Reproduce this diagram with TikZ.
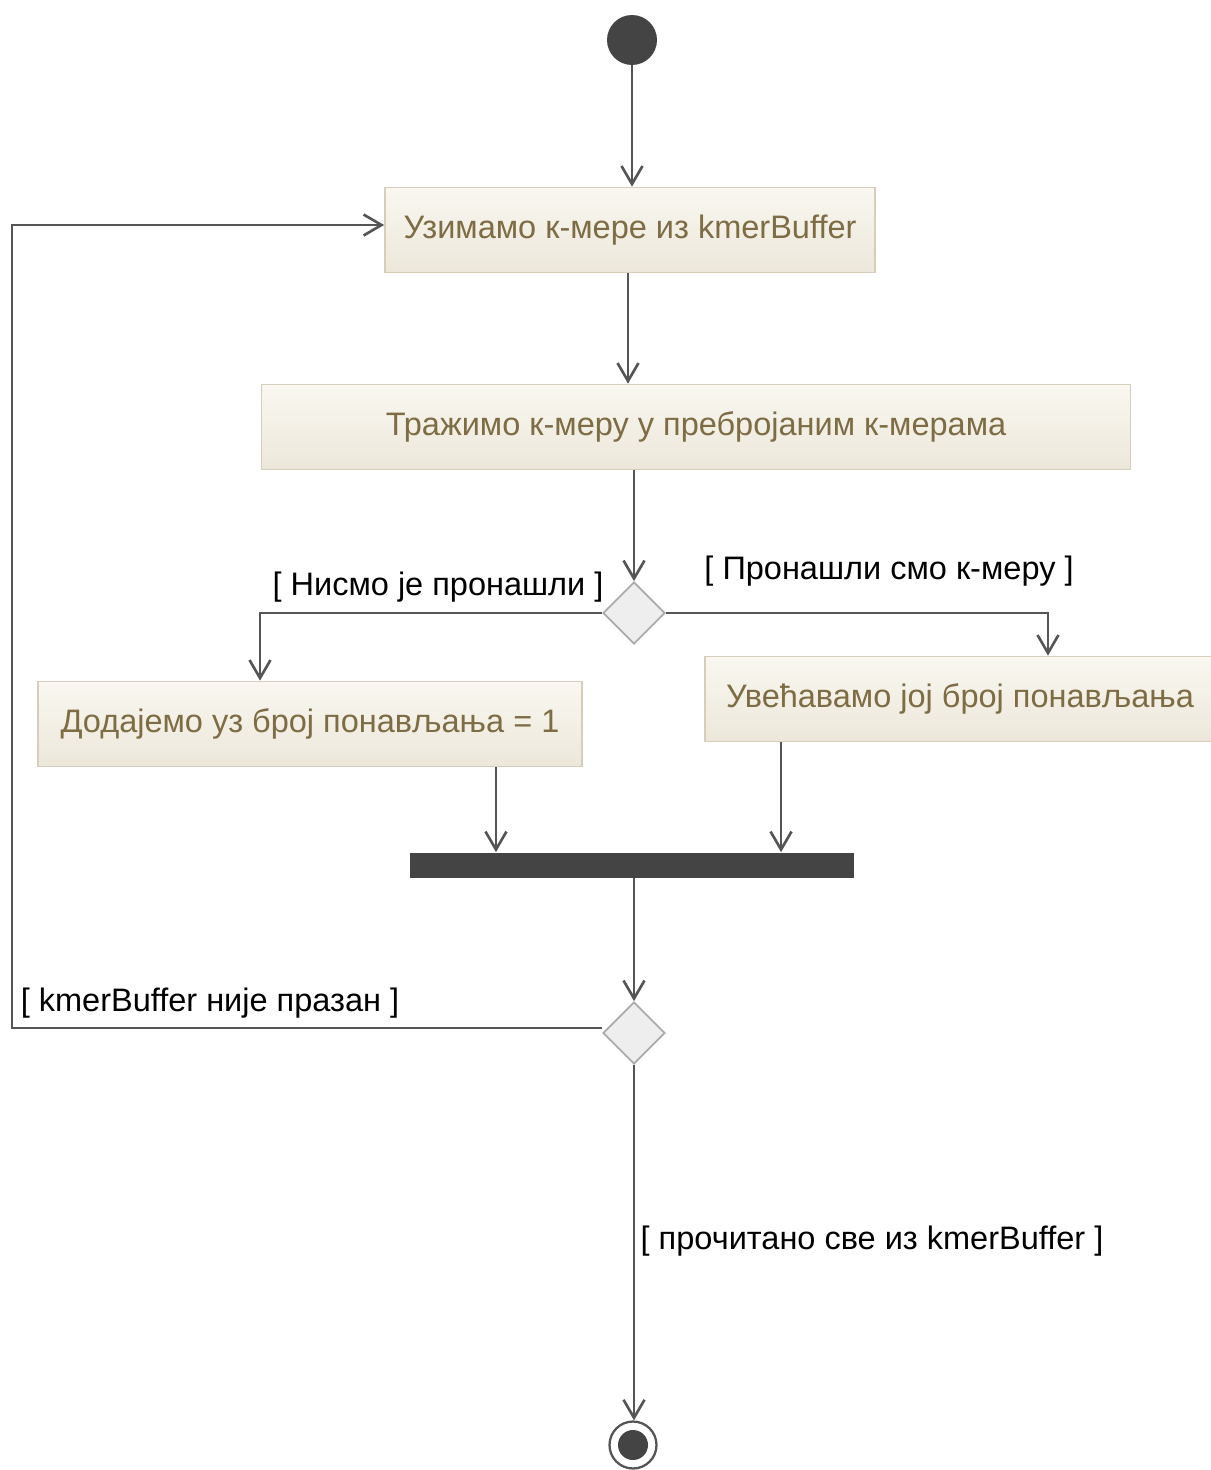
\documentclass[tikz,border=0pt]{standalone}
\usepackage{fontspec}
\setmainfont{Liberation Sans}
\usetikzlibrary{shapes.geometric,arrows.meta}
\definecolor{linegray}{RGB}{85,85,85}
\definecolor{darkfill}{RGB}{68,68,68}
\definecolor{boxtop}{RGB}{249,247,240}
\definecolor{boxbottom}{RGB}{236,231,218}
\definecolor{boxedge}{RGB}{214,205,186}
\definecolor{boxtext}{RGB}{125,108,68}
\definecolor{diafill}{RGB}{238,238,238}
\definecolor{diaedge}{RGB}{170,170,170}
\begin{document}
\begin{tikzpicture}[x=0.02cm,y=-0.02cm,
	flow/.style={line width=1.6pt, draw=linegray, -{Straight Barb[length=3.6mm,width=4.2mm,line width=1.5pt]}},
	action/.style={rectangle, draw=boxedge, line width=1pt, top color=boxtop, bottom color=boxbottom,
		text=boxtext, minimum height=1.7cm, inner sep=0pt, font=\fontsize{18.5}{22}\selectfont},
	guard/.style={inner sep=0pt, font=\fontsize{18.5}{22}\selectfont},
	choice/.style={diamond, draw=diaedge, fill=diafill, line width=1pt, aspect=1,
		minimum width=1.24cm, minimum height=1.24cm, inner sep=0pt},
	startnode/.style={circle, fill=darkfill, minimum size=1cm, inner sep=0pt},
	endnode/.style={circle, draw=linegray, fill=white, line width=1.3pt, minimum size=0.94cm, inner sep=0pt,
		path picture={\fill[darkfill] (path picture bounding box.center) circle (0.3cm);}},
	forkbar/.style={rectangle, fill=darkfill, minimum width=8.9cm, minimum height=0.5cm, inner sep=0pt}]

	\useasboundingbox (0,0) rectangle (1210,1470);

	% nodes
	\node[startnode] (init) at (632,40) {};
	\node[action, minimum width=9.8cm] (take) at (630,230) {Узимамо к-мере из kmerBuffer};
	\node[action, minimum width=17.38cm] (search) at (696,427) {Тражимо к-меру у пребројаним к-мерама};
	\node[choice] (found) at (634,613) {};
	\node[action, minimum width=10.88cm] (add) at (310,724) {Додајемо уз број понављања = 1};
	\node[action, minimum width=10.2cm] (inc) at (960,699) {Увећавамо јој број понављања};
	\node[forkbar] (join) at (632,865) {};
	\node[choice] (empty) at (634,1033) {};
	\node[endnode] (final) at (633,1445) {};
	\coordinate (loopx) at (12,0);

	% guards
	\node[guard] (notfound) at (438,587) {[ Нисмо је пронашли ]};
	\node[guard] (isfound) at (889,571) {[ Пронашли смо к-меру ]};
	\node[guard] (notempty) at (210,1003) {[ kmerBuffer није празан ]};
	\node[guard] (readall) at (872,1241) {[ прочитано све из kmerBuffer ]};

	% flows
	\draw[flow] (init) -- (init |- take.north);
	\draw[flow] ([xshift=-0.04cm]take.south) -- ([xshift=-0.04cm]take.south |- search.north);
	\draw[flow] (found.north |- search.south) -- (found.north);
	\draw[flow] (found.west) -| ([xshift=-1cm]add.north);
	\draw[flow] (found.east) -| ([xshift=1.76cm]inc.north);
	\draw[flow] ([xshift=3.72cm]add.south) -- ([xshift=3.72cm]add.south |- join.north);
	\draw[flow] ([xshift=-3.58cm]inc.south) -- ([xshift=-3.58cm]inc.south |- join.north);
	\draw[flow] (empty.north |- join.south) -- (empty.north);
	\draw[flow] ([yshift=0.1cm]empty.west) -- ([yshift=0.1cm]empty.west -| loopx) |- ([yshift=0.1cm]take.west);
	\draw[flow] (empty.south) -- (empty.south |- final.north);
\end{tikzpicture}
\end{document}
